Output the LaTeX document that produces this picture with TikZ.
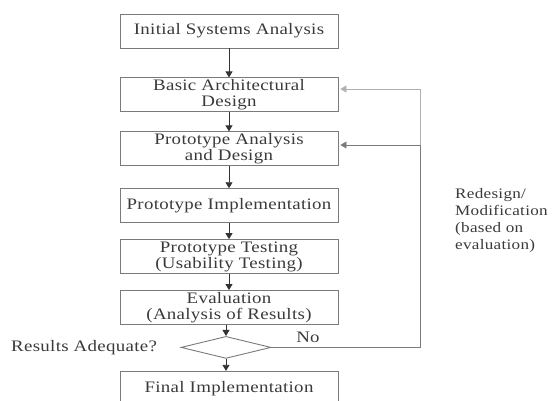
\documentclass[tikz,border=0pt]{standalone}
\usepackage{fontspec}
\setmainfont{Liberation Serif}[FakeStretch=1.18, LetterSpace=2]
\usepackage{tikz}
\usetikzlibrary{arrows.meta,positioning,shapes.geometric}
\definecolor{boxline}{HTML}{7A7A7A}
\definecolor{inktext}{HTML}{3A3A3A}
\definecolor{paleline}{HTML}{B0B0B0}

\begin{document}
\begin{tikzpicture}[
  x=1pt, y=-1pt,
  every node/.style={font=\fontsize{16}{16}\selectfont, align=center, text=inktext},
  box/.style={draw=boxline, line width=0.9pt, minimum height=34pt, minimum width=218pt, inner sep=0pt},
  decision/.style={diamond, draw=boxline, line width=0.9pt, minimum width=90pt, minimum height=22pt, inner sep=0pt},
  arr/.style={-{Triangle[length=6pt,width=7pt]}, line width=0.8pt, draw=black!80},
  fback/.style={-{Triangle[length=6pt,width=7pt]}, line width=0.8pt, draw=boxline, shorten >=2pt}
]
\useasboundingbox (0,0) rectangle (557,400);
\node[box] (initial) at (229,31) {Initial Systems Analysis};
\node[box, below=29pt of initial] (archdesign) {Basic Architectural\\Design};
\node[box, below=19pt of archdesign] (protodesign) {Prototype Analysis\\and Design};
\node[box, below=22pt of protodesign] (protoimpl) {Prototype Implementation};
\node[box, below=16pt of protoimpl] (prototest) {Prototype Testing\\(Usability Testing)};
\node[box, below=16pt of prototest] (evaluation) {Evaluation\\(Analysis of Results)};
\node[decision, below=11pt of evaluation, xshift=-3pt] (adequate) {};
\node[box, below=12pt of adequate, xshift=3pt] (finalimpl) {Final Implementation};
\node[left=20pt of adequate] (question) {Results Adequate?};
\node (nolabel) at (308,337) {No};
\node[anchor=north west, align=left, inner sep=0pt, font=\fontsize{14.5}{17}\selectfont] (redesign) at (455,188) {Redesign/\\Modification\\(based on\\evaluation)};
% feedback corners
\coordinate (fbmid) at (420,145);
\coordinate (fbtop) at (420,89);
\draw[arr] (initial) -- (archdesign);
\draw[arr] (archdesign) -- (protodesign);
\draw[arr] (protodesign) -- (protoimpl);
\draw[arr] (protoimpl) -- (prototest);
\draw[arr] (prototest) -- (evaluation);
\draw[arr] (evaluation.south -| adequate.north) -- (adequate);
\draw[arr] (adequate) -- (adequate.south |- finalimpl.north);
\draw[fback] (adequate.east) -- (adequate.east -| fbmid) -- (fbmid) -- (protodesign.east |- fbmid);
\draw[fback, draw=paleline] (fbmid) -- (fbtop) -- (archdesign.east |- fbtop);
\end{tikzpicture}
\end{document}
